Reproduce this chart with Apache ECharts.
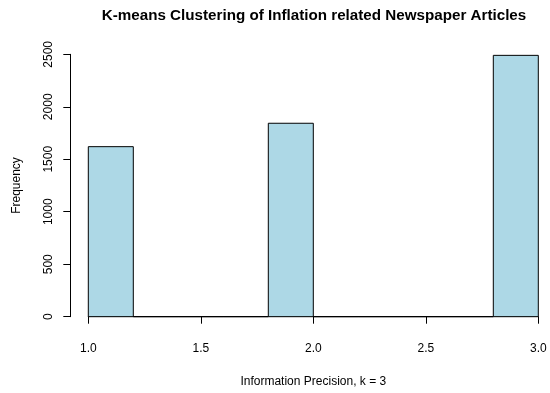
<!DOCTYPE html>
<html>
<head>
<meta charset="utf-8">
<script src="https://cdn.jsdelivr.net/npm/echarts@6/dist/echarts.min.js"></script>
<style>html,body{margin:0;padding:0;background:#fff}#c{width:550px;height:393px}</style>
</head>
<body>
<div id="c"></div>
<script>
var breaks = [1.0, 1.2, 1.4, 1.6, 1.8, 2.0, 2.2, 2.4, 2.6, 2.8, 3.0];
var counts = [1620, 0, 0, 0, 1843, 0, 0, 0, 0, 2490];
var xTicks = [1.0, 1.5, 2.0, 2.5, 3.0];
var yTicks = [0, 500, 1000, 1500, 2000, 2500];
var titleText = 'K-means Clustering of Inflation related Newspaper Articles';
var xLabel = 'Information Precision, k = 3';
var yLabel = 'Frequency';

var data = counts.map(function (c, i) { return [breaks[i], breaks[i + 1], c]; });
var font = 'Liberation Sans, Arial, Helvetica, sans-serif';

var chart = echarts.init(document.getElementById('c'), null, {renderer: 'canvas'});
chart.setOption({
  animation: false,
  backgroundColor: '#fff',
  title: {
    text: titleText, left: 309, top: 3, textAlign: 'center',
    textStyle: {fontFamily: font, fontWeight: 'bold', fontSize: 15.2, color: '#000'}
  },
  grid: {left: 88.3, right: 11.7, top: 54.3, bottom: 76.3},
  xAxis: {
    type: 'value', min: xTicks[0], max: xTicks[xTicks.length - 1], interval: 0.5, offset: 11,
    name: xLabel, nameLocation: 'middle', nameGap: 48,
    nameTextStyle: {fontFamily: font, fontSize: 12, color: '#000'},
    axisLine: {show: true, lineStyle: {color: '#000', width: 1}},
    axisTick: {show: true, length: 7, lineStyle: {color: '#000'}},
    axisLabel: {fontFamily: font, fontSize: 12, color: '#000', margin: 15,
      formatter: function (v) { return v.toFixed(1); }},
    splitLine: {show: false}
  },
  yAxis: {
    type: 'value', min: yTicks[0], max: yTicks[yTicks.length - 1], interval: 500, offset: 18,
    name: yLabel, nameLocation: 'middle', nameGap: 48, nameRotate: 90,
    nameTextStyle: {fontFamily: font, fontSize: 12, color: '#000'},
    axisLine: {show: true, lineStyle: {color: '#000', width: 1}},
    axisTick: {show: true, length: 7, lineStyle: {color: '#000'}},
    axisLabel: {fontFamily: font, fontSize: 12, color: '#000', margin: 16, rotate: 90,
      formatter: function (v) { return String(v); }},
    splitLine: {show: false}
  },
  series: [{
    type: 'custom',
    data: data,
    encode: {x: [0, 1], y: 2},
    clip: false,
    renderItem: function (params, api) {
      var p0 = api.coord([api.value(0), 0]);
      var p1 = api.coord([api.value(1), api.value(2)]);
      return {
        type: 'rect',
        shape: {x: p0[0], y: p1[1], width: p1[0] - p0[0], height: p0[1] - p1[1]},
        style: {fill: '#ADD8E6', stroke: '#000', lineWidth: 1}
      };
    }
  }]
});
</script>
</body>
</html>
